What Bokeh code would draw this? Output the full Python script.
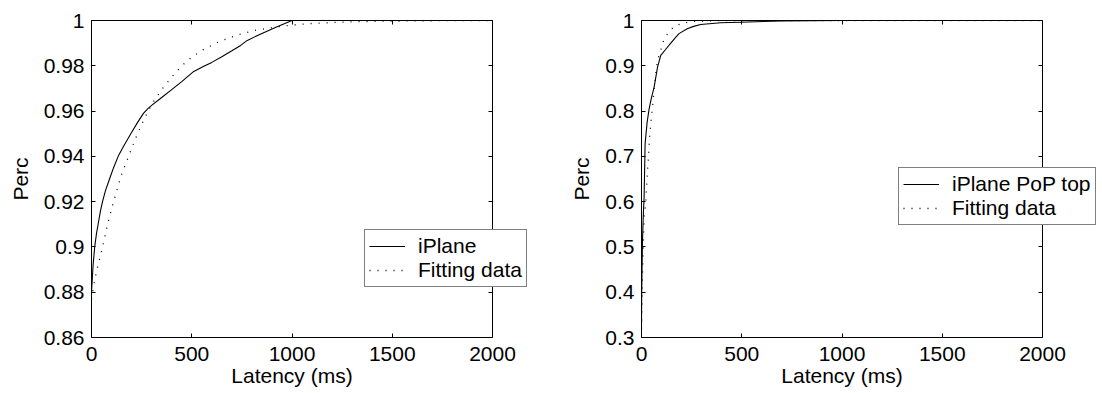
from bokeh.plotting import figure
from bokeh.layouts import row
from bokeh.models import (Range1d, LinearAxis, FixedTicker, Legend, LegendItem,
                          CustomJSTickFormatter, Title)
from bokeh.embed import file_html
from bokeh.resources import INLINE

FONT = "Liberation Sans"
FS = "21px"

# ---------------- data ----------------
x_ticks = [0, 500, 1000, 1500, 2000]
x_min, x_max = 0, 2000
x_label = "Latency (ms)"
y_label = "Perc"

left_y_ticks = [0.86, 0.88, 0.90, 0.92, 0.94, 0.96, 0.98, 1.0]
left_y_labels = ["0.86", "0.88", "0.9", "0.92", "0.94", "0.96", "0.98", "1"]
right_y_ticks = [0.3, 0.4, 0.5, 0.6, 0.7, 0.8, 0.9, 1.0]
right_y_labels = ["0.3", "0.4", "0.5", "0.6", "0.7", "0.8", "0.9", "1"]

left_series_names = ["iPlane", "Fitting data"]
right_series_names = ["iPlane PoP top", "Fitting data"]

# Left: iPlane (solid)
left_solid_x = [0, 8, 16, 25, 35, 45, 55, 70, 90, 110, 133, 160, 196, 230, 259, 280, 300,
                350, 400, 450, 510, 560, 600, 650, 700, 744, 777, 850, 920, 1000, 1500, 2000]
left_solid_y = [0.880, 0.892, 0.900, 0.906, 0.911, 0.916, 0.920, 0.925, 0.930, 0.935, 0.940,
                0.9445, 0.950, 0.955, 0.959, 0.961, 0.9625, 0.966, 0.9695, 0.973, 0.9775,
                0.9798, 0.9815, 0.984, 0.9866, 0.989, 0.9912, 0.9943, 0.997, 1.0, 1.0, 1.0]

# Left: fitting data (dotted)
left_fit_x = [0, 15, 30, 50, 80, 110, 150, 185, 220, 260, 300, 350, 400, 450, 500, 550,
              630, 720, 810, 910, 1000, 1100, 1250, 1450, 1700, 2000]
left_fit_y = [0.877, 0.885, 0.891, 0.898, 0.910, 0.920, 0.932, 0.940, 0.948, 0.956, 0.963,
              0.9695, 0.9750, 0.9800, 0.9838, 0.9868, 0.9904, 0.9934, 0.9956, 0.9970,
              0.9980, 0.9987, 0.9993, 0.9997, 0.9999, 1.0]

# Right: iPlane PoP top (solid)
right_solid_x = [0, 1, 3, 5, 9, 13, 18, 28, 38, 50, 63, 80, 96, 120, 146, 165, 187, 228,
                 260, 295, 395, 495, 700, 1000, 2000]
right_solid_y = [0.33, 0.40, 0.46, 0.514, 0.57, 0.61, 0.728, 0.775, 0.805, 0.830, 0.853,
                 0.897, 0.923, 0.936, 0.950, 0.960, 0.971, 0.9816, 0.987, 0.991, 0.995,
                 0.9963, 0.999, 1.0, 1.0]

# Right: fitting data (dotted)
right_fit_x = [0, 3, 6, 10, 13, 17, 21, 26, 30, 35, 40, 47, 55, 63, 72, 80, 96, 107, 129,
               162, 204, 254, 350, 500, 800, 2000]
right_fit_y = [0.32, 0.40, 0.46, 0.52, 0.566, 0.58, 0.595, 0.639, 0.67, 0.70, 0.74, 0.775,
               0.81, 0.85, 0.885, 0.912, 0.934, 0.952, 0.9706, 0.9868, 0.994, 0.998,
               0.9995, 0.9999, 1.0, 1.0]

# ---------------- layout constants (pixels) ----------------
FIG_W = 551
BOX_W = 401          # visible axes box width
FRAME_H = 317
XLABEL_W = 5.779 * 21  # advance width of "Latency (ms)" in Liberation Sans at 21px


def style_axis(ax, ticks, labels=None, show_labels=True):
    ax.ticker = FixedTicker(ticks=ticks)
    ax.axis_line_color = "black"
    ax.axis_line_width = 1
    ax.major_tick_line_color = "black"
    ax.major_tick_in = 4
    ax.major_tick_out = 0
    ax.minor_tick_line_color = None
    ax.major_label_text_font = FONT
    ax.major_label_text_font_size = FS
    ax.major_label_text_color = "black"
    ax.axis_label_text_font = FONT
    ax.axis_label_text_font_size = FS
    ax.axis_label_text_font_style = "normal"
    ax.axis_label_text_color = "black"
    if labels is not None:
        ax.major_label_overrides = dict(zip(ticks, labels))
    if not show_labels:
        ax.formatter = CustomJSTickFormatter(code="return ''")
        ax.major_label_standoff = 0


def make_fig(yr, yticks, ylabels, sx, sy, fx, fy, names, border_left, leg_loc):
    frame_w = FIG_W - border_left
    x_end = x_min + (x_max - x_min) * frame_w / BOX_W
    p = figure(frame_width=frame_w, frame_height=FRAME_H,
               min_border_left=border_left, min_border_right=0,
               min_border_top=20, min_border_bottom=56,
               x_range=Range1d(x_min, x_end), y_range=Range1d(*yr),
               output_backend="svg", toolbar_location=None,
               background_fill_color="white", border_fill_color="white")
    p.grid.visible = False
    p.outline_line_color = None

    xa = p.xaxis[0]
    style_axis(xa, x_ticks)
    xa.bounds = (x_min, x_max)
    xa.major_label_standoff = 9

    xt = Title(text=x_label, align="left", offset=BOX_W / 2 - XLABEL_W / 2,
               text_font=FONT, text_font_size=FS, text_font_style="normal",
               text_color="black", standoff=0, vertical_align="top")
    p.add_layout(xt, "below")

    ya = p.yaxis[0]
    style_axis(ya, yticks, ylabels)
    ya.axis_label = y_label
    ya.major_label_standoff = 7
    ya.axis_label_standoff = 9

    top = LinearAxis()
    style_axis(top, x_ticks, show_labels=False)
    top.bounds = (x_min, x_max)
    p.add_layout(top, "above")

    right = LinearAxis(fixed_location=x_max)
    style_axis(right, yticks, show_labels=False)
    p.add_layout(right, "right")

    r1 = p.line(sx, sy, line_color="black", line_width=1.1)
    r2 = p.line(fx, fy, line_color="black", line_width=1.3, line_dash="1 7")

    leg = Legend(items=[LegendItem(label=names[0], renderers=[r1]),
                        LegendItem(label=names[1], renderers=[r2])],
                 location=leg_loc)
    leg.label_text_font = FONT
    leg.label_text_font_size = FS
    leg.label_text_color = "black"
    leg.label_text_line_height = 1.0
    leg.glyph_width = 36
    leg.glyph_height = 20
    leg.label_height = 20
    leg.label_standoff = 13
    leg.padding = 4
    leg.spacing = 0
    leg.margin = 0
    leg.border_line_color = "black"
    leg.border_line_width = 1
    leg.background_fill_color = "white"
    leg.background_fill_alpha = 1
    p.add_layout(leg)
    return p


p1 = make_fig((0.86, 1.0), left_y_ticks, left_y_labels,
              left_solid_x, left_solid_y, left_fit_x, left_fit_y,
              left_series_names, 91, (273, 50))
p2 = make_fig((0.3, 1.0), right_y_ticks, right_y_labels,
              right_solid_x, right_solid_y, right_fit_x, right_fit_y,
              right_series_names, 90, (257, 112))

layout = row(p1, p2)
open("out.html", "w").write(file_html(layout, INLINE))
